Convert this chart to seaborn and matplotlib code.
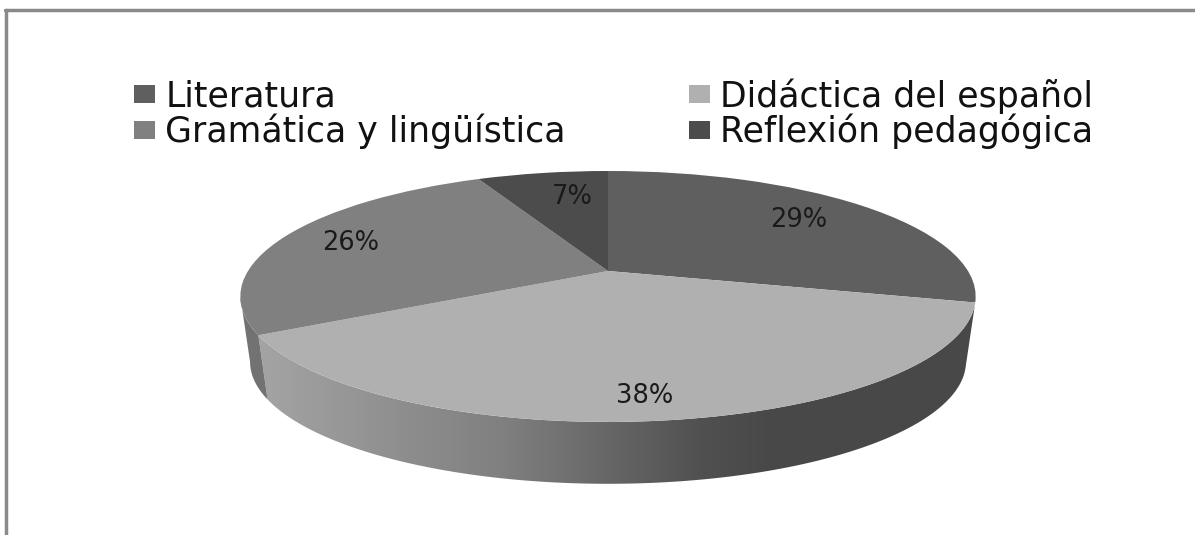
import matplotlib
matplotlib.use('Agg')
import matplotlib.pyplot as plt
from matplotlib.colors import LinearSegmentedColormap
from matplotlib.patches import Polygon
from matplotlib.transforms import Transform
import seaborn as sns
import numpy as np

categories = ['Literatura', 'Didáctica del español', 'Gramática y lingüística', 'Reflexión pedagógica']
shares = [29, 38, 26, 7]
slice_colors = ['#5f5f5f', '#b0b0b0', '#808080', '#4c4c4c']
label_pos = [(799, 220), (645, 396), (351, 243), (572, 197)]  # pixel spots of the % labels

TILT = 0.203  # how strong the perspective is


class PieView(Transform):
    # unit circle -> tilted disc, in pixels
    input_dims = 2
    output_dims = 2

    def __init__(self, cx, cy, rad, squash):
        super().__init__()
        self.cx, self.cy, self.rad, self.squash = cx, cy, rad, squash

    def transform_non_affine(self, values):
        xy = np.asarray(values, dtype=float)
        w = 1 + TILT * xy[:, 1]
        return np.column_stack([self.cx + self.rad * xy[:, 0] / w, self.cy - self.squash * xy[:, 1] / w])


def rim(view, theta1, theta2):
    t = np.radians(np.linspace(theta1, theta2, 120))  # clockwise from 12 o'clock
    return view.transform_non_affine(np.column_stack([np.sin(t), np.cos(t)]))


sns.set_theme(style='white')
plt.rcParams['font.family'] = ['DejaVu Sans']

fig = plt.figure(figsize=(11.95, 5.35), dpi=100)
ax = fig.add_axes([0, 0, 1, 1])

top = PieView(608, 271, 360, 120.3)
bottom = PieView(608, 337, 350.5, 117)

#side wall, only the part that faces us
edges = np.cumsum([0] + shares) / sum(shares) * 360
left_limit = 360 - np.degrees(np.arccos(-TILT))

wall = np.vstack([rim(top, edges[1], edges[2]), rim(bottom, edges[2], edges[1])])
wall_cmap = LinearSegmentedColormap.from_list('wall', [
    (0.0, '#a4a4a4'), (0.2, '#8e8e8e'), (0.34, '#808080'), (0.48, '#686868'),
    (0.62, '#505050'), (0.72, '#484848'), (1.0, '#484848')])
grad = ax.imshow(np.linspace(0, 1, 256)[None, :], cmap=wall_cmap, vmin=0, vmax=1,
                 extent=[258, 976, 484, 300], aspect='auto', zorder=1)
grad.set_clip_path(Polygon(wall, closed=True, transform=ax.transData))

side_left = np.vstack([rim(top, edges[2], left_limit), rim(bottom, left_limit, edges[2])])
ax.fill(side_left[:, 0], side_left[:, 1], color='#727272', lw=0, zorder=1)

#top of the pie
wedges, _, pct = ax.pie(shares, colors=slice_colors, startangle=90, counterclock=False,
                        autopct='%.0f%%', textprops={'fontsize': 18.5, 'color': '#1a1a1a'},
                        wedgeprops={'linewidth': 0})
for w in wedges:
    w.set_transform(top + ax.transData)
    w.set_zorder(2)
for t, p in zip(pct, label_pos):
    t.set_position(p)
    t.set_zorder(3)

#frame of the picture
ax.axhline(10, xmin=5 / 1195, color='#8a8a8a', lw=2.5)
ax.axvline(6, ymin=0, ymax=1 - 10 / 535, color='#8a8a8a', lw=2.5)

order = [0, 2, 1, 3]  # legend fills by column
ax.legend([wedges[i] for i in order], [categories[i] for i in order], ncol=2, frameon=False,
          loc='upper left', bbox_to_anchor=(134, 78), bbox_transform=ax.transData,
          fontsize=25, borderpad=0, borderaxespad=0, handlelength=0.6, handleheight=0.43,
          handletextpad=0.3, columnspacing=3.55, labelspacing=0.0, labelcolor='#111111')

ax.set_aspect('auto')
ax.set_xlim(0, 1195)
ax.set_ylim(535, 0)
fig.savefig('out.png', dpi=100, facecolor='white')
